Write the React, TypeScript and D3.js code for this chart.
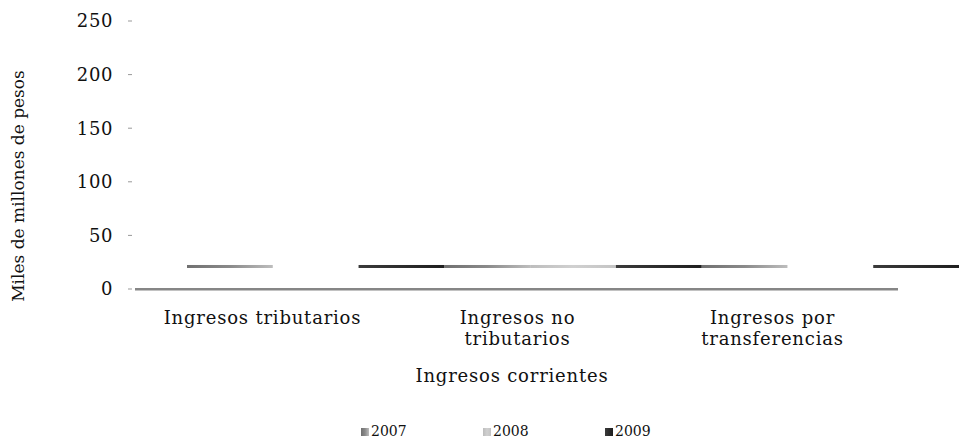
import { useEffect, useRef } from "react";
import * as d3 from "d3";

const categories = ["Ingresos tributarios", "Ingresos no tributarios", "Ingresos por transferencias"];
const categoryLines = [["Ingresos tributarios"], ["Ingresos no", "tributarios"], ["Ingresos por", "transferencias"]];
const series = ["2007", "2008", "2009"];
const values2007 = [21, 21, 21];
const values2008 = [0, 21, 0];
const values2009 = [21, 21, 21];
const yTicks = [0, 50, 100, 150, 200, 250];

const seriesValues = [values2007, values2008, values2009];
const seriesColors = [
  ["#707070", "#8a8a8a", "#bdbdbd"],
  ["#bdbdbd", "#d0d0d0", "#c4c4c4"],
  ["#3a3a3a", "#2c2c2c", "#1e1e1e"],
];

const W = 959;
const H = 439;
const font = "DejaVu Serif";

export default function App() {
  const ref = useRef<SVGSVGElement>(null);

  useEffect(() => {
    document.body.style.margin = "0";
    const svg = d3.select(ref.current);
    svg.selectAll("*").remove();

    const y = d3.scaleLinear().domain([0, 250]).range([289, 21]);
    const xAxis = d3.scaleBand().domain(categories).range([135, 900]);
    // bars in this chart sit shifted right of the axis bands
    const xBars = d3.scaleBand().domain(categories).range([187, 959]);
    const xSub = d3.scaleBand().domain(series).range([0, xBars.bandwidth()]);

    const defs = svg.append("defs");
    series.forEach((s, i) => {
      const g = defs
        .append("linearGradient")
        .attr("id", `g${s}`)
        .attr("x1", "0%")
        .attr("x2", "100%");
      seriesColors[i].forEach((c, j) =>
        g.append("stop").attr("offset", `${j * 50}%`).attr("stop-color", c)
      );
    });

    const label = (sel: any, size: number, spacing = 0) =>
      sel
        .style("font-family", font)
        .style("font-size", `${size}px`)
        .style("letter-spacing", `${spacing}px`)
        .attr("fill", "#111");

    // y ticks
    const yg = svg.append("g");
    yTicks.forEach((t) => {
      yg.append("line")
        .attr("x1", 128)
        .attr("x2", 132)
        .attr("y1", y(t))
        .attr("y2", y(t))
        .attr("stroke", "#999")
        .attr("stroke-width", 1);
      label(
        yg.append("text")
          .attr("x", 113)
          .attr("y", y(t))
          .attr("dy", "0.36em")
          .attr("text-anchor", "end"),
        18,
        0.6
      ).text(t);
    });

    // bars (seen as thin tops)
    series.forEach((s, i) => {
      svg
        .append("g")
        .selectAll("rect")
        .data(categories.filter((_, k) => seriesValues[i][k] > 0))
        .enter()
        .append("rect")
        .attr("x", (c) => (xBars(c) as number) + (xSub(s) as number))
        .attr("width", xSub.bandwidth())
        .attr("y", (c) => y(seriesValues[i][categories.indexOf(c)]) - 1.5)
        .attr("height", 3)
        .attr("fill", `url(#g${s})`);
    });

    // baseline
    svg.append("rect")
      .attr("x", 135)
      .attr("width", 898 - 135)
      .attr("y", y(0) - 1)
      .attr("height", 2.5)
      .attr("fill", "#868686");

    // category labels
    categories.forEach((c, i) => {
      const cx = (xAxis(c) as number) + xAxis.bandwidth() / 2;
      categoryLines[i].forEach((line, j) => {
        label(
          svg.append("text")
            .attr("x", cx)
            .attr("y", 324 + j * 21)
            .attr("text-anchor", "middle"),
          18,
          0.8
        ).text(line);
      });
    });

    label(
      svg.append("text").attr("x", 512).attr("y", 382).attr("text-anchor", "middle"),
      18,
      0.8
    ).text("Ingresos corrientes");

    label(
      svg.append("text")
        .attr("transform", `translate(24,186) rotate(-90)`)
        .attr("text-anchor", "middle"),
      17,
      0
    ).text("Miles de millones de pesos");

    // legend
    const lx = d3.scalePoint().domain(series).range([361, 605]);
    series.forEach((s) => {
      const x0 = lx(s) as number;
      svg.append("rect")
        .attr("x", x0)
        .attr("y", 428)
        .attr("width", 8)
        .attr("height", 8)
        .attr("fill", `url(#g${s})`);
      label(svg.append("text").attr("x", x0 + 10).attr("y", 436), 14, 0).text(s);
    });
  }, []);

  return <svg ref={ref} width={W} height={H} style={{ display: "block", background: "#fff" }} />;
}
